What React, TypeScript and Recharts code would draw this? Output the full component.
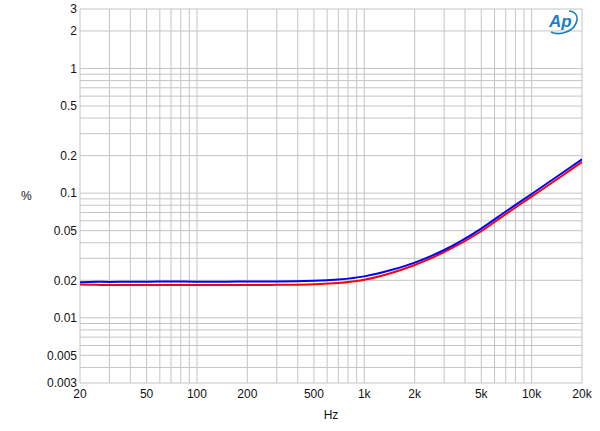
import {
  LineChart,
  Line,
  XAxis,
  YAxis,
  CartesianGrid,
  Label,
} from "recharts";

const freqs = [20, 25, 30, 40, 50, 70, 100, 150, 200, 300, 500, 700, 1000, 1500, 2000, 3000, 5000, 7000, 10000, 15000, 20000];
const blueThd = [0.0193, 0.0195, 0.0194, 0.0195, 0.0195, 0.0196, 0.0195, 0.0195, 0.0196, 0.0196, 0.0198, 0.0203, 0.0215, 0.0245, 0.0277, 0.035, 0.052, 0.0712, 0.0985, 0.143, 0.187];
const redThd = [0.0185, 0.0184, 0.0183, 0.0183, 0.0183, 0.0183, 0.0183, 0.0183, 0.0183, 0.0184, 0.0186, 0.019, 0.0202, 0.0232, 0.0265, 0.0336, 0.0495, 0.0678, 0.0938, 0.136, 0.178];

const xTicks = [20, 50, 100, 200, 500, 1000, 2000, 5000, 10000, 20000];
const yTicks = [0.003, 0.005, 0.01, 0.02, 0.05, 0.1, 0.2, 0.5, 1, 2, 3];

const xGrid = [20, 30, 40, 50, 60, 70, 80, 90, 100, 200, 300, 400, 500, 600, 700, 800, 900, 1000, 2000, 3000, 4000, 5000, 6000, 7000, 8000, 9000, 10000, 20000];
const yGrid = [0.003, 0.004, 0.005, 0.006, 0.007, 0.008, 0.009, 0.01, 0.02, 0.03, 0.04, 0.05, 0.06, 0.07, 0.08, 0.09, 0.1, 0.2, 0.3, 0.4, 0.5, 0.6, 0.7, 0.8, 0.9, 1, 2, 3];

const data = freqs.map((f, i) => ({ f, blue: blueThd[i], red: redThd[i] }));

const fmtHz = (v: number) => (v >= 1000 ? `${v / 1000}k` : `${v}`);

const tickStyle = { fontSize: 12, fill: "#111", fontFamily: "Liberation Sans, Arial, sans-serif" };

const App = () => {
  return (
    <div style={{ position: "absolute", left: 0, top: 0, width: 600, height: 431, background: "#fff" }}>
      <LineChart
        width={600}
        height={431}
        data={data}
        margin={{ top: 9, right: 18, bottom: 0, left: 0 }}
      >
        <CartesianGrid
          stroke="#c4c4c4"
          strokeWidth={1}
          horizontalValues={yGrid}
          verticalValues={xGrid}
        />
        <XAxis
          dataKey="f"
          type="number"
          scale="log"
          domain={[20, 20000]}
          ticks={xTicks}
          tickFormatter={fmtHz}
          axisLine={false}
          tickLine={false}
          tickSize={0}
          tickMargin={6}
          height={48}
          allowDataOverflow
          tick={tickStyle}
          interval={0}
        >
          <Label value="Hz" position="insideBottom" offset={12} style={tickStyle} />
        </XAxis>
        <YAxis
          type="number"
          scale="log"
          domain={[0.003, 3]}
          ticks={yTicks}
          tickFormatter={(v: number) => String(v)}
          axisLine={false}
          tickLine={false}
          tickSize={0}
          tickMargin={3}
          width={80}
          allowDataOverflow
          tick={tickStyle}
          interval={0}
        >
          <Label value="%" position="insideLeft" offset={21} style={tickStyle} />
        </YAxis>
        <Line type="monotone" dataKey="red" stroke="#ff0000" strokeWidth={2} dot={false} isAnimationActive={false} />
        <Line type="monotone" dataKey="blue" stroke="#0000ff" strokeWidth={2} dot={false} isAnimationActive={false} />
      </LineChart>
      <svg style={{ position: "absolute", left: 545, top: 8, width: 36, height: 28 }} viewBox="0 0 36 28">
        <path d="M6 24 C 14 28, 30 24, 32 12 C 33 6, 28 3, 24 3" fill="none" stroke="#1a7fc4" strokeWidth={1.6} />
        <text x={4} y={19} fontSize={17} fontStyle="italic" fontWeight="bold" fill="#1a7fc4" fontFamily="Liberation Sans, Arial, sans-serif">Ap</text>
      </svg>
    </div>
  );
};

export default App;
